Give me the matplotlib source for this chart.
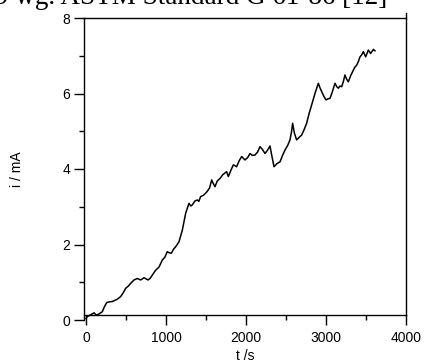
import matplotlib
matplotlib.use("Agg")
import matplotlib.pyplot as plt
from matplotlib.ticker import MultipleLocator

title_text = "9 wg. ASTM Standard G 61-86 [12]"
x_label = "t /s"
y_label = "i / mA"
x_ticks = [0, 1000, 2000, 3000, 4000]
y_ticks = [0, 2, 4, 6, 8]

t_s = [0, 17, 60, 100, 130, 162, 204, 230, 258, 290, 329, 360, 391, 433, 465, 496,
       530, 558, 600, 642, 683, 725, 775, 800, 829, 871, 912, 954, 985, 1016, 1040,
       1067, 1095, 1121, 1162, 1204, 1246, 1287, 1310, 1329, 1360, 1391, 1410, 1433,
       1465, 1496, 1520, 1545, 1571, 1590, 1612, 1640, 1675, 1710, 1758, 1779, 1810,
       1842, 1883, 1915, 1946, 1987, 2020, 2050, 2080, 2112, 2145, 2175, 2205, 2237,
       2270, 2300, 2321, 2350, 2385, 2425, 2455, 2487, 2520, 2550, 2570, 2583, 2605,
       2633, 2665, 2696, 2728, 2758, 2790, 2821, 2862, 2904, 2925, 2946, 2975, 3000,
       3025, 3050, 3080, 3112, 3135, 3154, 3175, 3196, 3215, 3237, 3258, 3279, 3310,
       3342, 3362, 3383, 3405, 3425, 3445, 3467, 3496, 3529, 3558, 3592, 3612]
i_mA = [0.04, 0.09, 0.14, 0.19, 0.13, 0.16, 0.22, 0.35, 0.46, 0.48, 0.49, 0.52, 0.55,
        0.62, 0.72, 0.84, 0.90, 0.97, 1.06, 1.10, 1.06, 1.12, 1.06, 1.10, 1.19, 1.32,
        1.40, 1.59, 1.66, 1.81, 1.78, 1.77, 1.88, 1.94, 2.07, 2.38, 2.83, 3.09, 3.02,
        3.05, 3.15, 3.18, 3.14, 3.27, 3.30, 3.36, 3.42, 3.50, 3.71, 3.62, 3.53, 3.68,
        3.75, 3.85, 3.93, 3.80, 3.96, 4.11, 4.06, 4.22, 4.33, 4.24, 4.30, 4.41, 4.36,
        4.37, 4.45, 4.59, 4.52, 4.41, 4.50, 4.61, 4.37, 4.06, 4.14, 4.19, 4.35, 4.50,
        4.62, 4.77, 5.00, 5.21, 4.95, 4.77, 4.84, 4.90, 5.05, 5.21, 5.48, 5.70, 6.00,
        6.27, 6.15, 6.05, 5.92, 5.83, 5.86, 5.87, 6.05, 6.27, 6.18, 6.14, 6.20, 6.18,
        6.30, 6.49, 6.38, 6.31, 6.48, 6.62, 6.70, 6.75, 6.85, 6.97, 7.02, 7.11, 6.97,
        7.15, 7.06, 7.17, 7.13]

plt.rcParams['font.family'] = ['Liberation Sans', 'DejaVu Sans']

fig = plt.figure(figsize=(4.24, 3.6), dpi=100)
ax = fig.add_axes([84/424, 40/360, 322/424, 302/360])

ax.plot(t_s, i_mA, color='black', linewidth=1.1)

ax.set_xlim(-25, 4000)
ax.set_ylim(0, 8)
ax.set_xticks(x_ticks)
ax.set_yticks(y_ticks)
ax.xaxis.set_minor_locator(MultipleLocator(500))
ax.yaxis.set_minor_locator(MultipleLocator(1))
ax.tick_params(which='major', direction='out', length=7, width=1, labelsize=10, pad=4, colors='black')
ax.tick_params(which='minor', direction='out', length=3.6, width=1)
ax.tick_params(axis='y', which='major', pad=3)

for s in ax.spines.values():
    s.set_linewidth(1)
    s.set_color('black')
ax.spines['bottom'].set_position(('data', 0.12))
ax.spines['right'].set_bounds(0.12, 8.14)

ax.set_xlabel(x_label, fontsize=10)
ax.set_ylabel(y_label, fontsize=10)
ax.xaxis.set_label_coords(0.5, -0.095)
ax.yaxis.set_label_coords(-0.185, 0.5)

fig.text(387/424, 1 - 4.5/360, title_text, ha='right', va='baseline',
         fontsize=19.5, family=['Liberation Serif', 'DejaVu Serif'])

fig.savefig("out.png", dpi=100)
